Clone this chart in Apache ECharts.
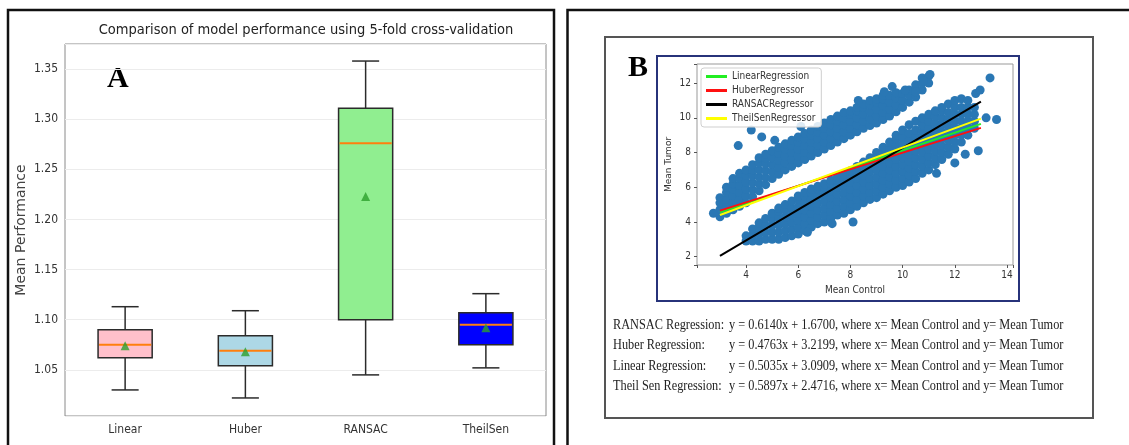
<!DOCTYPE html>
<html>
<head>
<meta charset="utf-8">
<script src="https://cdn.jsdelivr.net/npm/echarts@6/dist/echarts.min.js"></script>
<style>
  html, body { margin: 0; padding: 0; background: #fff; }
  #chart { width: 1129px; height: 445px; }
</style>
</head>
<body>
<div id="chart"></div>
<script>
// ---- panel A: 5-fold cross-validation boxplot ----
const models = ['Linear', 'Huber', 'RANSAC', 'TheilSen']
// [min, q1, median, q3, max]
const boxStats = [
  [1.030, 1.062, 1.075, 1.090, 1.113],
  [1.022, 1.054, 1.069, 1.084, 1.109],
  [1.045, 1.100, 1.276, 1.311, 1.358],
  [1.052, 1.075, 1.095, 1.107, 1.126]
]
const meanScores = [1.074, 1.068, 1.223, 1.092]
const boxColors = ['#ffc0cb', '#add8e6', '#90ee90', '#0000ff']

// ---- panel B: mean control vs mean tumor ----
// columns of the upper cloud: [x, [y, ...]]
const upperBand = [
  [3.0, [4.3, 4.7, 5.1, 5.4]],
  [3.25, [4.5, 4.9, 5.3, 5.7, 6.0]],
  [3.5, [4.7, 5.1, 5.5, 5.9, 6.2, 6.5]],
  [3.75, [4.9, 5.3, 5.7, 6.1, 6.5, 6.8]],
  [4.0, [5.1, 5.5, 5.9, 6.3, 6.7, 7.0]],
  [4.25, [5.45, 5.85, 6.25, 6.65, 7.0, 7.3]],
  [4.5, [5.8, 6.2, 6.6, 7.0, 7.4, 7.7]],
  [4.75, [6.15, 6.55, 6.95, 7.35, 7.7, 7.9]],
  [5.0, [6.5, 6.9, 7.3, 7.7, 8.1]],
  [5.25, [6.75, 7.15, 7.55, 7.95, 8.3]],
  [5.5, [7.0, 7.4, 7.8, 8.2, 8.5]],
  [5.75, [7.2, 7.6, 8.0, 8.4, 8.7]],
  [6.0, [7.4, 7.8, 8.2, 8.6, 8.9]],
  [6.25, [7.6, 8.0, 8.4, 8.8, 9.1]],
  [6.5, [7.8, 8.2, 8.6, 9.0, 9.3]],
  [6.75, [8.0, 8.4, 8.8, 9.2, 9.5]],
  [7.0, [8.2, 8.6, 9.0, 9.4, 9.7]],
  [7.25, [8.4, 8.8, 9.2, 9.6, 9.9]],
  [7.5, [8.6, 9.0, 9.4, 9.8, 10.1]],
  [7.75, [8.8, 9.2, 9.6, 10.0, 10.3]],
  [8.0, [9.0, 9.4, 9.8, 10.2, 10.4]],
  [8.25, [9.2, 9.6, 10.0, 10.4, 10.6]],
  [8.5, [9.4, 9.8, 10.2, 10.6, 10.8]],
  [8.75, [9.55, 9.95, 10.35, 10.75, 11.0]],
  [9.0, [9.7, 10.1, 10.5, 10.9, 11.1]],
  [9.25, [9.9, 10.3, 10.7, 11.1, 11.3]],
  [9.5, [10.1, 10.5, 10.9, 11.3]],
  [9.75, [10.35, 10.75, 11.15, 11.45]],
  [10.0, [10.6, 11.0, 11.4]],
  [10.25, [10.9, 11.3, 11.6]],
  [10.5, [11.2, 11.6, 11.9]],
  [10.75, [11.6, 12.0, 12.3]],
  [11.0, [12.0, 12.4]]
]
// columns of the lower cloud
const lowerBand = [
  [4.0, [2.9, 3.2]],
  [4.25, [2.9, 3.25, 3.6]],
  [4.5, [2.9, 3.3, 3.7, 3.95]],
  [4.75, [3.0, 3.4, 3.8, 4.2]],
  [5.0, [3.0, 3.4, 3.8, 4.2, 4.5]],
  [5.25, [3.0, 3.4, 3.8, 4.2, 4.6, 4.8]],
  [5.5, [3.1, 3.5, 3.9, 4.3, 4.7, 5.0]],
  [5.75, [3.2, 3.6, 4.0, 4.4, 4.8, 5.2]],
  [6.0, [3.3, 3.7, 4.1, 4.5, 4.9, 5.3, 5.5]],
  [6.25, [3.5, 3.9, 4.3, 4.7, 5.1, 5.5, 5.7]],
  [6.5, [3.7, 4.1, 4.5, 4.9, 5.3, 5.7, 5.9]],
  [6.75, [3.9, 4.3, 4.7, 5.1, 5.5, 5.9, 6.05]],
  [7.0, [4.0, 4.4, 4.8, 5.2, 5.6, 6.0, 6.2]],
  [7.25, [4.2, 4.6, 5.0, 5.4, 5.8, 6.2, 6.4]],
  [7.5, [4.4, 4.8, 5.2, 5.6, 6.0, 6.4, 6.6]],
  [7.75, [4.5, 4.9, 5.3, 5.7, 6.1, 6.5, 6.75]],
  [8.0, [4.7, 5.1, 5.5, 5.9, 6.3, 6.7, 6.95]],
  [8.25, [4.9, 5.3, 5.7, 6.1, 6.5, 6.9, 7.2]],
  [8.5, [5.1, 5.5, 5.9, 6.3, 6.7, 7.1, 7.45]],
  [8.75, [5.3, 5.7, 6.1, 6.5, 6.9, 7.3, 7.7]],
  [9.0, [5.4, 5.8, 6.2, 6.6, 7.0, 7.4, 7.8, 8.0]],
  [9.25, [5.6, 6.0, 6.4, 6.8, 7.2, 7.6, 8.0, 8.3]],
  [9.5, [5.8, 6.2, 6.6, 7.0, 7.4, 7.8, 8.2, 8.6]],
  [9.75, [6.0, 6.4, 6.8, 7.2, 7.6, 8.0, 8.4, 8.8, 9.0]],
  [10.0, [6.1, 6.5, 6.9, 7.3, 7.7, 8.1, 8.5, 8.9, 9.3]],
  [10.25, [6.3, 6.7, 7.1, 7.5, 7.9, 8.3, 8.7, 9.1, 9.6]],
  [10.5, [6.5, 6.9, 7.3, 7.7, 8.1, 8.5, 8.9, 9.3, 9.8]],
  [10.75, [6.8, 7.2, 7.6, 8.0, 8.4, 8.8, 9.2, 9.6, 10.0]],
  [11.0, [7.0, 7.4, 7.8, 8.2, 8.6, 9.0, 9.4, 9.8, 10.2]],
  [11.25, [7.3, 7.7, 8.1, 8.5, 8.9, 9.3, 9.7, 10.1, 10.4]],
  [11.5, [7.6, 8.0, 8.4, 8.8, 9.2, 9.6, 10.0, 10.4, 10.6]],
  [11.75, [7.9, 8.3, 8.7, 9.1, 9.5, 9.9, 10.3, 10.8]],
  [12.0, [8.2, 8.6, 9.0, 9.4, 9.8, 10.2, 10.6, 11.0]],
  [12.25, [8.6, 9.0, 9.4, 9.8, 10.2, 10.6, 11.1]],
  [12.5, [9.0, 9.4, 9.8, 10.2, 10.6, 11.0]],
  [12.75, [9.4, 9.8, 10.2, 10.6]]
]
const outliers = [
  [2.75, 4.5], [3.7, 8.4], [4.2, 9.3], [4.6, 8.9], [5.1, 8.7], [6.1, 9.5],
  [8.3, 11.0], [9.3, 11.5], [9.6, 11.8], [10.1, 11.6], [10.5, 11.5], [10.8, 12.1], [11.05, 12.5],
  [6.35, 3.4], [7.3, 3.9], [8.1, 4.0], [11.3, 6.8], [12.0, 7.4], [12.4, 7.9], [12.9, 8.1],
  [13.2, 10.0], [13.6, 9.9], [12.8, 11.4], [12.97, 11.6], [13.35, 12.3], [12.4, 9.4]
]
// fitted lines, read at x = 3 and x = 13
const fitX = [3, 13]
const fitLinear = [4.55, 9.65]
const fitHuber = [4.65, 9.42]
const fitRansac = [2.04, 10.93]
const fitTheilSen = [4.4, 9.95]

const equations = [
  ['RANSAC Regression:', 'y = 0.6140x + 1.6700, where x= Mean Control and y= Mean Tumor'],
  ['Huber Regression:', 'y = 0.4763x + 3.2199, where x= Mean Control and y= Mean Tumor'],
  ['Linear Regression:', 'y = 0.5035x + 3.0909, where x= Mean Control and y= Mean Tumor'],
  ['Theil Sen Regression:', 'y = 0.5897x + 2.4716, where x= Mean Control and y= Mean Tumor']
]

const sans = '"DejaVu Sans Condensed", "DejaVu Sans", sans-serif'
const serif = '"Liberation Serif", "Times New Roman", serif'

const cloud = upperBand.concat(lowerBand)
  .flatMap(([x, ys]) => ys.map(y => [x, y]))
  .concat(outliers)

const toLine = ys => fitX.map((x, i) => [x, ys[i]])

function renderBox (params, api) {
  const idx = api.value(0)
  const lo = api.coord([idx, api.value(1)])
  const q1 = api.coord([idx, api.value(2)])
  const med = api.coord([idx, api.value(3)])
  const q3 = api.coord([idx, api.value(4)])
  const hi = api.coord([idx, api.value(5)])
  const w = api.size([1, 0])[0] * 0.45
  const cx = lo[0]
  const edge = { stroke: '#2b2b2b', lineWidth: 1.5 }
  return {
    type: 'group',
    children: [
      { type: 'line', shape: { x1: cx, y1: lo[1], x2: cx, y2: q1[1] }, style: edge },
      { type: 'line', shape: { x1: cx, y1: q3[1], x2: cx, y2: hi[1] }, style: edge },
      { type: 'line', shape: { x1: cx - w / 4, y1: lo[1], x2: cx + w / 4, y2: lo[1] }, style: edge },
      { type: 'line', shape: { x1: cx - w / 4, y1: hi[1], x2: cx + w / 4, y2: hi[1] }, style: edge },
      {
        type: 'rect',
        shape: { x: cx - w / 2, y: q3[1], width: w, height: q1[1] - q3[1] },
        style: { fill: boxColors[idx], stroke: '#2b2b2b', lineWidth: 1.5 }
      },
      {
        type: 'line',
        shape: { x1: cx - w / 2 + 1, y1: med[1], x2: cx + w / 2 - 1, y2: med[1] },
        style: { stroke: '#ff7f0e', lineWidth: 2 }
      }
    ]
  }
}

const evenLabel = v => {
  const r = Math.round(v)
  return (Math.abs(v - r) < 1e-9 && r % 2 === 0) ? String(r) : ''
}
const fiveLabel = v => {
  const r = Math.round(v * 100)
  return (Math.abs(v * 100 - r) < 1e-6 && r % 5 === 0) ? v.toFixed(2) : ''
}

const graphics = [
  { type: 'rect', shape: { x: 8, y: 10, width: 546, height: 450 }, style: { fill: 'none', stroke: '#111', lineWidth: 2.5 } },
  { type: 'rect', shape: { x: 567.5, y: 10, width: 600, height: 450 }, style: { fill: 'none', stroke: '#111', lineWidth: 2.5 } },
  { type: 'rect', shape: { x: 605, y: 37, width: 488, height: 381 }, style: { fill: 'none', stroke: '#555', lineWidth: 2 } },
  { type: 'rect', shape: { x: 657, y: 56, width: 362, height: 245 }, style: { fill: 'none', stroke: '#27337a', lineWidth: 2 } },
  {
    type: 'text', x: 306, y: 30,
    style: { text: 'Comparison of model performance using 5-fold cross-validation', font: '14.5px ' + sans, fill: '#222', textAlign: 'center', textVerticalAlign: 'middle' }
  },
  { type: 'text', x: 107, y: 79, style: { text: 'A', font: 'bold 30px ' + serif, fill: '#000', textVerticalAlign: 'middle' } },
  { type: 'text', x: 628, y: 68, style: { text: 'B', font: 'bold 30px ' + serif, fill: '#000', textVerticalAlign: 'middle' } }
]
equations.forEach(([label, eq], i) => {
  const y = 325 + i * 20.3
  graphics.push({ type: 'text', x: 613, y: y, scaleX: 0.82, style: { text: label, font: '15px ' + serif, fill: '#222', textVerticalAlign: 'middle' } })
  graphics.push({ type: 'text', x: 729, y: y, scaleX: 0.82, style: { text: eq, font: '15px ' + serif, fill: '#222', textVerticalAlign: 'middle' } })
})

const chart = echarts.init(document.getElementById('chart'))
chart.setOption({
  animation: false,
  backgroundColor: '#fff',
  graphic: graphics,
  legend: {
    data: ['LinearRegression', 'HuberRegressor', 'RANSACRegressor', 'TheilSenRegressor'],
    orient: 'vertical',
    left: 701,
    top: 68,
    padding: [3, 6, 3, 5],
    itemGap: 3,
    itemWidth: 21,
    itemHeight: 3,
    icon: 'rect',
    borderColor: '#cfcfcf',
    borderWidth: 1,
    borderRadius: 3,
    backgroundColor: 'rgba(255,255,255,0.85)',
    textStyle: { fontFamily: sans, fontSize: 10, color: '#333', lineHeight: 11 }
  },
  grid: [
    { left: 65, top: 44, width: 481, height: 372, show: true, borderColor: '#8a8a8a', borderWidth: 1, backgroundColor: '#fff' },
    { left: 697, top: 64, width: 316, height: 201, show: true, borderColor: '#999', borderWidth: 1, backgroundColor: '#fff' }
  ],
  xAxis: [
    {
      gridIndex: 0,
      type: 'category',
      data: models,
      axisLine: { show: false },
      axisTick: { alignWithLabel: true, length: 4, lineStyle: { color: '#555' } },
      axisLabel: { fontFamily: sans, fontSize: 12, color: '#333', margin: 8 }
    },
    {
      gridIndex: 1,
      type: 'value',
      min: 2.12,
      max: 14.23,
      splitLine: { show: false },
      axisLine: { show: false },
      axisTick: { length: 3, lineStyle: { color: '#555' } },
      axisLabel: { fontFamily: sans, fontSize: 10, color: '#333', margin: 5, formatter: evenLabel },
      name: 'Mean Control',
      nameLocation: 'middle',
      nameGap: 20,
      nameTextStyle: { fontFamily: sans, fontSize: 10, color: '#333' }
    }
  ],
  yAxis: [
    {
      gridIndex: 0,
      type: 'value',
      min: 1.004,
      max: 1.375,
      splitNumber: 7,
      splitLine: { lineStyle: { color: '#ececec' } },
      axisLine: { show: false },
      axisTick: { length: 4, lineStyle: { color: '#555' } },
      axisLabel: { fontFamily: sans, fontSize: 12, color: '#333', margin: 7, formatter: fiveLabel },
      name: 'Mean Performance',
      nameLocation: 'middle',
      nameGap: 37,
      nameTextStyle: { fontFamily: '"DejaVu Sans", sans-serif', fontSize: 14, color: '#444' }
    },
    {
      gridIndex: 1,
      type: 'value',
      min: 1.52,
      max: 13.1,
      splitLine: { show: false },
      axisLine: { show: false },
      axisTick: { length: 3, lineStyle: { color: '#555' } },
      axisLabel: { fontFamily: sans, fontSize: 10, color: '#333', margin: 6, formatter: evenLabel },
      name: 'Mean Tumor',
      nameLocation: 'middle',
      nameGap: 24,
      nameTextStyle: { fontFamily: '"DejaVu Sans", sans-serif', fontSize: 9, color: '#333' }
    }
  ],
  series: [
    {
      type: 'custom',
      xAxisIndex: 0,
      yAxisIndex: 0,
      renderItem: renderBox,
      encode: { x: 0, y: [1, 2, 3, 4, 5] },
      data: boxStats.map((s, i) => [i].concat(s)),
      z: 2
    },
    {
      type: 'scatter',
      xAxisIndex: 0,
      yAxisIndex: 0,
      symbol: 'triangle',
      symbolSize: 9,
      itemStyle: { color: '#2ca02c' },
      data: meanScores.map((v, i) => [i, v]),
      z: 3
    },
    {
      name: 'data',
      type: 'scatter',
      xAxisIndex: 1,
      yAxisIndex: 1,
      symbolSize: 9,
      itemStyle: { color: '#2a77b4', opacity: 1 },
      data: cloud,
      z: 2
    },
    { name: 'LinearRegression', type: 'line', xAxisIndex: 1, yAxisIndex: 1, showSymbol: false, color: '#22ee22', lineStyle: { width: 2, color: '#22ee22' }, data: toLine(fitLinear), z: 3 },
    { name: 'HuberRegressor', type: 'line', xAxisIndex: 1, yAxisIndex: 1, showSymbol: false, color: '#ff1010', lineStyle: { width: 2, color: '#ff1010' }, data: toLine(fitHuber), z: 3 },
    { name: 'RANSACRegressor', type: 'line', xAxisIndex: 1, yAxisIndex: 1, showSymbol: false, color: '#000', lineStyle: { width: 2, color: '#000' }, data: toLine(fitRansac), z: 3 },
    { name: 'TheilSenRegressor', type: 'line', xAxisIndex: 1, yAxisIndex: 1, showSymbol: false, color: '#ffff00', lineStyle: { width: 2, color: '#ffff00' }, data: toLine(fitTheilSen), z: 3 }
  ]
})
</script>
</body>
</html>
